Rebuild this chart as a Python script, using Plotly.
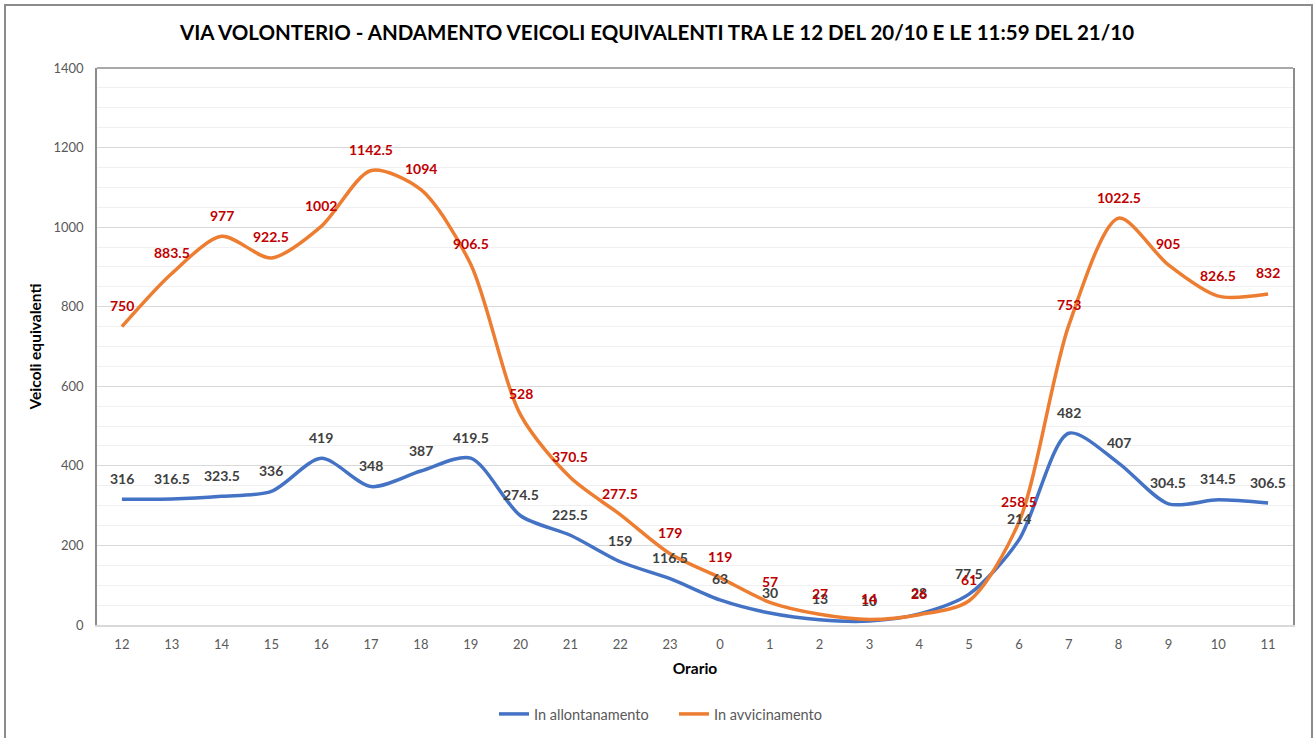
import plotly.graph_objects as go

categories = ["12", "13", "14", "15", "16", "17", "18", "19", "20", "21", "22", "23",
              "0", "1", "2", "3", "4", "5", "6", "7", "8", "9", "10", "11"]
allontanamento = [316, 316.5, 323.5, 336, 419, 348, 387, 419.5, 274.5, 225.5, 159, 116.5,
                  63, 30, 13, 10, 28, 77.5, 214, 482, 407, 304.5, 314.5, 306.5]
avvicinamento = [750, 883.5, 977, 922.5, 1002, 1142.5, 1094, 906.5, 528, 370.5, 277.5, 179,
                 119, 57, 27, 14, 26, 61, 258.5, 753, 1022.5, 905, 826.5, 832]

FONT = "Lato"
W, H = 1315, 738
L, R, T, B = 97, 22, 68, 113
PW, PH = W - L - R, H - T - B

def fmt(v):
    return f"{v:g}"

fig = go.Figure()
fig.add_trace(go.Scatter(
    x=categories, y=allontanamento, name="In allontanamento", mode="lines",
    line=dict(color="#4472C4", width=3.5, shape="spline", smoothing=0.8),
))
fig.add_trace(go.Scatter(
    x=categories, y=avvicinamento, name="In avvicinamento", mode="lines",
    line=dict(color="#ED7D31", width=3.5, shape="spline", smoothing=0.8),
))

annotations = []
for series, color in ((allontanamento, "#404040"), (avvicinamento, "#C00000")):
    for i, v in enumerate(series):
        # on a category axis, annotation x is the category index
        annotations.append(dict(
            x=i, y=v, xref="x", yref="y", text="<b>" + fmt(v) + "</b>", showarrow=False,
            xanchor="center", yanchor="middle", yshift=21,
            font=dict(family=FONT, size=14, color=color),
        ))

fig.update_layout(
    width=W, height=H,
    paper_bgcolor="white", plot_bgcolor="white",
    margin=dict(l=L, r=R, t=T, b=B, autoexpand=False),
    font=dict(family=FONT, color="#595959", size=13),
    title=dict(text="<b>VIA VOLONTERIO - ANDAMENTO VEICOLI EQUIVALENTI TRA LE 12 DEL 20/10 E LE 11:59 DEL 21/10</b>",
               x=657 / W, xanchor="center", y=1 - 33 / H, yanchor="middle",
               font=dict(family=FONT, size=20.5, color="#000000")),
    legend=dict(orientation="h", x=(674 - L) / PW, xanchor="center", y=(625 - 714) / PH, yanchor="middle",
                entrywidth=135, entrywidthmode="pixels",
                font=dict(family=FONT, size=14.5, color="#595959")),
    xaxis=dict(
        type="category", range=[-0.5, 23.5],
        title=dict(text="<b>Orario</b>", font=dict(family=FONT, size=15.5, color="#000000"), standoff=12),
        showgrid=False, showline=True, linecolor="#D9D9D9", linewidth=1.5,
        ticks="", ticklabelstandoff=7, tickfont=dict(size=13, color="#595959"),
    ),
    yaxis=dict(
        range=[0, 1400], dtick=200, tick0=0,
        title=dict(text="<b>Veicoli equivalenti</b>", font=dict(family=FONT, size=15.5, color="#000000"), standoff=8),
        showgrid=True, gridcolor="#D9D9D9", gridwidth=1,
        minor=dict(dtick=50, showgrid=True, gridcolor="#F0F0F0", gridwidth=1),
        showline=True, mirror=True, linecolor="#8C8C8C", linewidth=1.5,
        zeroline=False, ticks="", ticklabelstandoff=9, tickfont=dict(size=13, color="#595959"),
    ),
    annotations=annotations,
)

# top edge of the plot area
fig.add_shape(type="line", xref="paper", yref="paper", x0=0, x1=1, y0=1, y1=1,
              line=dict(color="#8C8C8C", width=1.5))
# outer chart border
fig.add_shape(type="rect", xref="paper", yref="paper",
              x0=(5 - L) / PW, x1=(1312 - L) / PW,
              y0=(625 - 760) / PH, y1=(625 - 5) / PH,
              line=dict(color="#8C8C8C", width=2), fillcolor="rgba(0,0,0,0)", layer="below")

fig.write_html("out.html", config={"displayModeBar": False},
               post_script="document.body.style.margin='0px';")
